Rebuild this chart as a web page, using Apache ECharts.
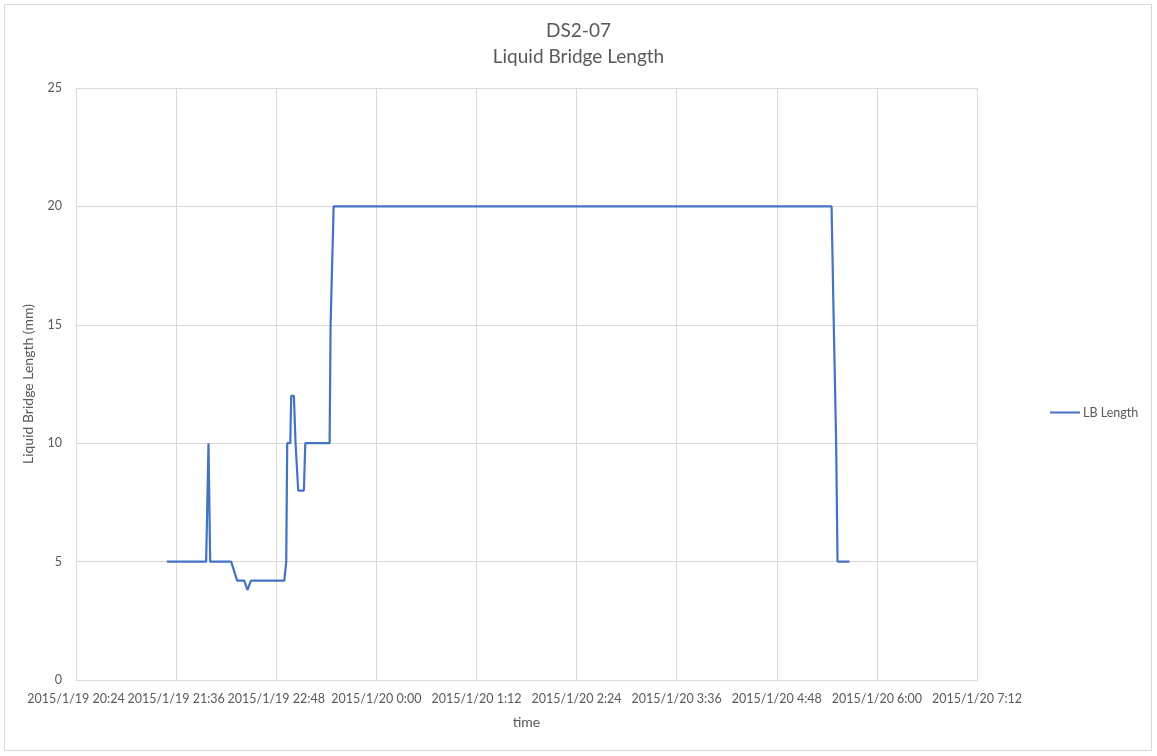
<!DOCTYPE html>
<html>
<head>
<meta charset="utf-8">
<script src="https://cdn.jsdelivr.net/npm/echarts@6/dist/echarts.min.js"></script>
<style>
html,body{margin:0;padding:0;background:#fff;}
#chart{width:1157px;height:756px;}
</style>
</head>
<body>
<div id="chart"></div>
<script>
// Data
var times = [
  "2015/1/19 21:29:20","2015/1/19 21:57:36","2015/1/19 21:59:18","2015/1/19 22:00:30","2015/1/19 22:15:36",
  "2015/1/19 22:19:54","2015/1/19 22:25:00","2015/1/19 22:27:18","2015/1/19 22:29:48","2015/1/19 22:53:48",
  "2015/1/19 22:55:12","2015/1/19 22:55:54","2015/1/19 22:58:06","2015/1/19 22:58:48","2015/1/19 23:00:42",
  "2015/1/19 23:01:54","2015/1/19 23:02:54","2015/1/19 23:03:48","2015/1/19 23:07:54","2015/1/19 23:08:54",
  "2015/1/19 23:26:24","2015/1/19 23:27:06","2015/1/19 23:27:48","2015/1/19 23:29:18","2015/1/20 5:27:24",
  "2015/1/20 5:29:00","2015/1/20 5:30:42","2015/1/20 5:31:42","2015/1/20 5:40:18"
];
var lbLength = [
  5,5,10,5,5,
  4.2,4.2,3.8,4.2,4.2,
  5,10,10,12,12,
  10,10,8,8,10,
  10,15,15,20,20,
  15,10,5,5
];
var xTickStart = "2015/1/19 20:24:00";
var xTickEnd = "2015/1/20 7:12:00";
var xTickStepMin = 72;
var yTicks = [0,5,10,15,20,25];

// convert "Y/M/D h:mm:ss" to minutes since 2015/1/19 00:00
function toMin(s){
  var p = s.split(" ");
  var d = p[0].split("/");
  var t = p[1].split(":");
  var day = parseInt(d[2],10) - 19;
  return day*1440 + parseInt(t[0],10)*60 + parseInt(t[1],10) + (t[2] ? parseInt(t[2],10)/60 : 0);
}
function fmt(m){
  var day = 19 + Math.floor(m/1440);
  var r = ((m % 1440) + 1440) % 1440;
  var h = Math.floor(r/60), mm = Math.round(r%60);
  return "2015/1/" + day + " " + h + ":" + (mm<10?"0":"") + mm;
}
var seriesData = times.map(function(t,i){ return [toMin(t), lbLength[i]]; });

var chart = echarts.init(document.getElementById('chart'));
var font = 'Lato, "Open Sans", sans-serif';
chart.setOption({
  animation:false,
  backgroundColor:'#fff',
  textStyle:{fontFamily:font},
  title:{
    text:'DS2-07\nLiquid Bridge Length',
    left:'center', top:13,
    textStyle:{fontFamily:font,fontSize:19,fontWeight:'normal',color:'#595959',lineHeight:26}
  },
  graphic:[{type:'rect',shape:{x:4.5,y:4.5,width:1147,height:746},style:{fill:null,stroke:'#d9d9d9',lineWidth:1},silent:true}],
  legend:{
    data:['LB Length'],
    left:1045, top:401,
    icon:'rect', itemWidth:30, itemHeight:2, itemGap:6,
    textStyle:{fontFamily:font,fontSize:12.5,color:'#595959',padding:[0,0,0,-2]}
  },
  grid:{left:76,right:180,top:88,bottom:76,containLabel:false},
  xAxis:{
    type:'value',
    min:toMin(xTickStart), max:toMin(xTickEnd), interval:xTickStepMin,
    name:'time', nameLocation:'middle', nameGap:35, nameMoveOverlap:false,
    nameTextStyle:{fontFamily:font,fontSize:14,color:'#595959'},
    axisLine:{show:true,lineStyle:{color:'#d9d9d9'}},
    axisTick:{show:false},
    axisLabel:{formatter:function(v){return fmt(v);},fontFamily:font,fontSize:12.5,color:'#595959',margin:12,showMinLabel:true,showMaxLabel:true,hideOverlap:false},
    splitLine:{show:true,lineStyle:{color:'#d9d9d9'}}
  },
  yAxis:{
    type:'value', min:yTicks[0], max:yTicks[yTicks.length-1], interval:5,
    name:'Liquid Bridge Length (mm)', nameLocation:'middle', nameGap:41, nameMoveOverlap:false,
    nameTextStyle:{fontFamily:font,fontSize:14,color:'#595959'},
    axisLine:{show:false}, axisTick:{show:false},
    axisLabel:{fontFamily:font,fontSize:12.5,color:'#595959',margin:14},
    splitLine:{show:true,lineStyle:{color:'#d9d9d9'}}
  },
  series:[{
    name:'LB Length', type:'line', data:seriesData,
    showSymbol:false, symbol:'none',
    lineStyle:{color:'#4472c4',width:2.2},
    itemStyle:{color:'#4472c4'}
  }]
});
</script>
</body>
</html>
